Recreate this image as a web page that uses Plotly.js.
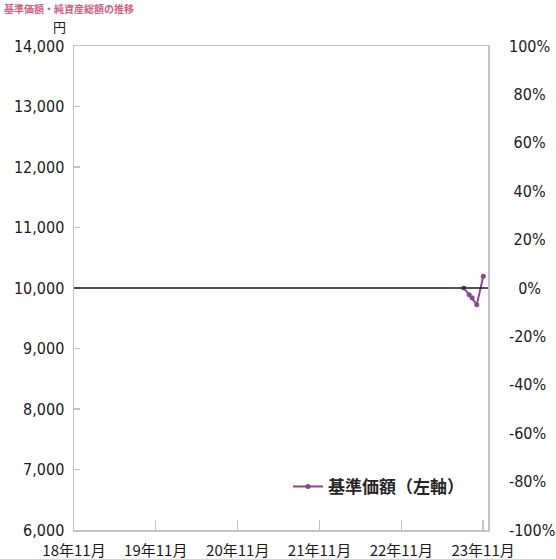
<!DOCTYPE html>
<html>
<head>
<meta charset="utf-8">
<script src="https://cdn.plot.ly/plotly-3.0.1.min.js"></script>
<style>
html,body{margin:0;padding:0;background:#fff;}
#chart{width:556px;height:559px;}
</style>
</head>
<body>
<div id="chart"></div>
<script>
// ---- data ----
var navDates = ['2023-08-07', '2023-08-31', '2023-09-13', '2023-10-04', '2023-11-02'];
var navValues = [10000, 9890, 9840, 9725, 10195];
var refDates = ['2018-10-01', '2023-12-31'];
var refRates = [0, 0];
var xTickVals = ['2018-11-01', '2019-11-01', '2020-11-01', '2021-11-01', '2022-11-01', '2023-11-01'];
var xTickText = ['18年11月', '19年11月', '20年11月', '21年11月', '22年11月', '23年11月'];
var yTickVals = [6000, 7000, 8000, 9000, 10000, 11000, 12000, 13000, 14000];
var y2TickVals = [-100, -80, -60, -40, -20, 0, 20, 40, 60, 80, 100];
var y2TickText = ['-100%', '-80%', '-60%', '-40%', '-20%', '\u00a0\u00a00%', '\u00a020%', '\u00a040%', '\u00a060%', '\u00a080%', '100%'];
var seriesName = '基準価額（左軸）';
var unitLabel = '円';
var titleText = '基準価額・純資産総額の推移';

var numFont = {family: 'DejaVu Sans Condensed, DejaVu Sans', size: 16, color: '#1a1a1a'};
var axisGray = '#c4c4c4';

var traces = [
  {
    x: refDates, y: refRates, yaxis: 'y2', type: 'scatter', mode: 'lines',
    line: {color: '#1a1a1a', width: 1.6}, showlegend: false, hoverinfo: 'skip'
  },
  {
    x: navDates, y: navValues, type: 'scatter', mode: 'lines+markers',
    name: seriesName,
    line: {color: '#87488f', width: 2},
    marker: {color: '#87488f', size: 5}
  }
];

var layout = {
  width: 556, height: 559,
  margin: {l: 74, r: 68, t: 46, b: 29},
  paper_bgcolor: '#fff', plot_bgcolor: '#fff',
  showlegend: true,
  legend: {
    x: 0.517, y: 0.089, xanchor: 'left', yanchor: 'middle',
    bgcolor: 'rgba(0,0,0,0)', borderwidth: 0,
    font: {family: 'Noto Sans CJK JP', size: 17, color: '#262626', weight: 'bold'}
  },
  xaxis: {
    type: 'date', range: ['2018-11-01', '2023-11-23'],
    tickmode: 'array', tickvals: xTickVals, ticktext: xTickText,
    ticks: 'inside', ticklen: 10, tickwidth: 1.2, tickcolor: axisGray,
    showline: true, linecolor: axisGray, linewidth: 1.5, mirror: true,
    showgrid: false, zeroline: false, layer: 'below traces',
    ticklabelstandoff: 6,
    tickfont: {family: 'Noto Sans CJK JP', size: 15, color: '#1a1a1a'}
  },
  yaxis: {
    range: [6000, 14000],
    tickmode: 'array', tickvals: yTickVals,
    tickformat: ',d',
    ticks: 'inside', ticklen: 6, tickwidth: 1.2, tickcolor: axisGray,
    showline: true, linecolor: axisGray, linewidth: 1.5, mirror: true,
    showgrid: false, zeroline: false, layer: 'below traces',
    ticklabelstandoff: 5,
    tickfont: numFont
  },
  yaxis2: {
    overlaying: 'y', side: 'right', anchor: 'x',
    range: [-100, 100],
    tickmode: 'array', tickvals: y2TickVals, ticktext: y2TickText,
    ticks: '', showline: false, showgrid: false, zeroline: false,
    ticklabelstandoff: 20,
    tickfont: numFont
  },
  annotations: [
    {
      text: unitLabel, xref: 'paper', yref: 'paper',
      x: -0.014, y: 1.017, xanchor: 'right', yanchor: 'bottom', showarrow: false,
      font: {family: 'Noto Sans CJK JP', size: 13, color: '#1a1a1a'}
    },
    {
      text: titleText, xref: 'paper', yref: 'paper',
      x: -0.175, y: 1.097, xanchor: 'left', yanchor: 'top', showarrow: false,
      font: {family: 'Noto Sans CJK JP', size: 10, color: '#d0607e', weight: 'bold'}
    }
  ]
};

Plotly.newPlot('chart', traces, layout, {displayModeBar: false, staticPlot: true});
</script>
</body>
</html>
